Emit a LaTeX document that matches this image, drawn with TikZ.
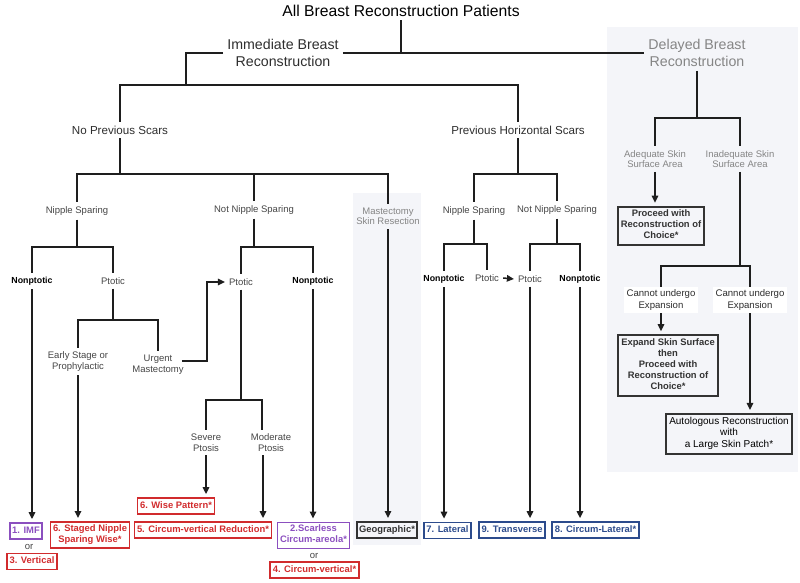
\documentclass[tikz,border=0pt]{standalone}
\usepackage{fontspec}
\setmainfont{Liberation Sans}
\usetikzlibrary{arrows.meta,positioning}

\definecolor{linec}{HTML}{1E1E1E}
\definecolor{txtdark}{HTML}{2E2E2E}
\definecolor{txtgray}{HTML}{454545}
\definecolor{txtlight}{HTML}{858585}
\definecolor{panel}{HTML}{F4F5F9}
\definecolor{respurple}{HTML}{8B4FBF}
\definecolor{resred}{HTML}{D12B2D}
\definecolor{resblue}{HTML}{2C4B8C}
\definecolor{resdark}{HTML}{333333}

\begin{document}
\begin{tikzpicture}[x=1pt, y=-1pt, >={Triangle[length=7pt,width=6.5pt]},
    conn/.style={draw=linec, line width=1.5pt},
    arr/.style={conn, ->, shorten >=3pt},
    lab/.style={font=\fontsize{9.5}{10.5}\selectfont, text=txtgray, align=center, inner sep=4pt},
    labbold/.style={lab, font=\fontsize{8.8}{10.5}\selectfont\bfseries, text=black},
    head/.style={font=\fontsize{14.2}{17}\selectfont, text=txtdark, align=center, inner sep=4pt},
    result/.style={draw, line width=1.8pt, font=\fontsize{9.4}{11}\selectfont\bfseries,
      align=center, inner sep=2.5pt, execute at begin node=\strut},
    purplebox/.style={result, draw=respurple, text=respurple},
    redbox/.style={result, draw=resred, text=resred},
    bluebox/.style={result, draw=resblue, text=resblue},
    darkbox/.style={result, draw=resdark, text=resdark, line width=2pt, inner sep=3.2pt}]

  \useasboundingbox (0,0) rectangle (800,583);
  \fill[panel] (607,27) rectangle (798,472);
  \fill[panel] (353,193) rectangle (421,545);

  \node[font=\fontsize{15.7}{18}\selectfont] (title) at (401,11) {All Breast Reconstruction Patients};
  \node[head] (imm) at (283,53) {Immediate Breast\\Reconstruction};
  \node[head, text=txtlight] (del) at (697,53) {Delayed Breast\\Reconstruction};

  \node[lab, font=\fontsize{11.6}{13}\selectfont, text=txtdark] (nps) at (120,130) {No Previous Scars};
  \node[lab, font=\fontsize{11.6}{13}\selectfont, text=txtdark] (phs) at (518,130) {Previous Horizontal Scars};

  \node[lab] (ns1) at (77,211) {Nipple Sparing};
  \node[lab] (nns1) at (254,210) {Not Nipple Sparing};
  \node[lab, text=txtlight] (msr) at (388,216.5) {Mastectomy\\Skin Resection};
  \node[lab] (ns2) at (474,211) {Nipple Sparing};
  \node[lab] (nns2) at (557,210) {Not Nipple Sparing};

  \node[labbold] (np1) at (32,281) {Nonptotic};
  \node[lab] (pt1) at (113,281) {Ptotic};
  \node[lab] (pt2) at (241,282) {Ptotic};
  \node[labbold] (np2) at (313,281) {Nonptotic};
  \node[labbold] (np3) at (444,279) {Nonptotic};
  \node[lab] (pt3) at (487,278) {Ptotic};
  \node[lab] (pt4) at (530,279) {Ptotic};
  \node[labbold] (np4) at (580,279) {Nonptotic};

  \node[lab] (es) at (78,361.5) {Early Stage or\\Prophylactic};
  \node[lab] (um) at (158,364.5) {Urgent\\Mastectomy};
  \node[lab] (sev) at (206,442.5) {Severe\\Ptosis};
  \node[lab] (mod) at (271,442.5) {Moderate\\Ptosis};

  \node[lab, text=txtlight] (adq) at (655,159) {Adequate Skin\\Surface Area};
  \node[lab, text=txtlight] (inadq) at (740,159) {Inadequate Skin\\Surface Area};
  \node[lab, fill=white, text=txtdark, inner sep=3pt, font=\fontsize{9.6}{11.5}\selectfont] (cue1) at (661,300) {Cannot undergo\\Expansion};
  \node[lab, fill=white, text=txtdark, inner sep=3pt, font=\fontsize{9.6}{11.5}\selectfont] (cue2) at (750,300) {Cannot undergo\\Expansion};

  \node[purplebox] (imf) at (26,531) {1. IMF};
  \node[lab, inner sep=1pt] (or1) at (29,546.5) {or};
  \node[redbox] (vert) at (32,561.5) {3. Vertical};
  \node[redbox] (snsw) at (90,535) {6. Staged Nipple\\Sparing Wise*};
  \node[redbox] (wise) at (176,506) {6. Wise Pattern*};
  \node[redbox] (cvr) at (203,530) {5. Circum-vertical Reduction*};
  \node[purplebox] (sca) at (313.5,535.5) {2.Scarless\\Circum-areola*};
  \node[lab, inner sep=1pt] (or2) at (314,556) {or};
  \node[redbox] (cv) at (314.5,570) {4. Circum-vertical*};
  \node[darkbox, inner sep=2.5pt] (geo) at (387,530) {Geographic*};
  \node[bluebox] (lat) at (447.5,530.5) {7. Lateral};
  \node[bluebox] (trans) at (512,530) {9. Transverse};
  \node[bluebox] (cl) at (595.5,530) {8. Circum-Lateral*};

  \node[darkbox] (proc) at (661,226) {Proceed with\\Reconstruction of\\Choice*};
  \node[darkbox] (exp) at (668,365.5) {Expand Skin Surface\\then\\Proceed with\\Reconstruction of\\Choice*};
  \node[darkbox, text=black, font=\fontsize{10}{11.5}\selectfont] (auto) at (729,434) {Autologous Reconstruction\\with\\a Large Skin Patch*};

  \draw[conn] (title.south) -- (title.south |- imm.east);
  \draw[conn] (imm.east) -- (del.west);
  \coordinate (jimm) at (186,85);
  \draw[conn] (imm.west) -| (jimm) -| (nps.north);
  \draw[conn] (jimm) -| (phs.north);

  \coordinate (jnps) at (120,174);
  \draw[conn] (nps.south) -- (jnps) -| (ns1.north);
  \draw[conn] (jnps) -| (nns1.north);
  \draw[conn] (jnps) -| (msr.north);
  \coordinate (jphs) at (518,174);
  \draw[conn] (phs.south) -- (jphs) -| (ns2.north);
  \draw[conn] (jphs) -| (nns2.north);

  \coordinate (jns1) at (77,247);
  \draw[conn] (ns1.south) -- (jns1) -| (np1.north);
  \draw[conn] (jns1) -| (pt1.north);
  \coordinate (jnns1) at (254,247);
  \draw[conn] (nns1.south) -- (jnns1) -| (pt2.north);
  \draw[conn] (jnns1) -| (np2.north);
  \coordinate (jns2) at (474,244);
  \draw[conn] (ns2.south) -- (jns2) -| (np3.north);
  \draw[conn] (jns2) -| (pt3.north);
  \coordinate (jnns2) at (557,244);
  \draw[conn] (nns2.south) -- (jnns2) -| (pt4.north);
  \draw[conn] (jnns2) -| (np4.north);

  \coordinate (jpt1) at (113,320);
  \draw[conn] (pt1.south) -- (jpt1) -| (es.north);
  \draw[conn] (jpt1) -| (um.north);
  \coordinate (jpt2) at (241,400);
  \draw[conn] (pt2.south) -- (jpt2) -| (sev.north);
  \draw[conn] (jpt2) -| ([xshift=-9pt]mod.north);

  \draw[conn,->] ([xshift=-6pt,yshift=3.5pt]um.east) -- ++(25,0) |- (pt2.west);
  \draw[conn,->] (pt3.east) -- (pt4.west);

  \draw[arr] (np1.south) -- (np1.south |- imf.north);
  \draw[arr] (es.south) -- (es.south |- snsw.north);
  \draw[arr] (sev.south) -- (sev.south |- wise.north);
  \draw[arr] ([xshift=-8pt]mod.south) -- ([xshift=-8pt]mod.south |- cvr.north);
  \draw[arr] (np2.south) -- (np2.south |- sca.north);
  \draw[arr] (msr.south) -- (msr.south |- geo.north);
  \draw[arr] (np3.south) -- (np3.south |- lat.north);
  \draw[arr] (pt4.south) -- (pt4.south |- trans.north);
  \draw[arr] (np4.south) -- (np4.south |- cl.north);

  \coordinate (jdel) at (697,118);
  \draw[conn] (del.south) -- (jdel) -| (adq.north);
  \draw[conn] (jdel) -| (inadq.north);
  \draw[arr] (adq.south) -- (adq.south |- proc.north);
  \coordinate (jinadq) at (740,266);
  \draw[conn] (inadq.south) -- (jinadq) -| (cue1.north);
  \draw[conn] (jinadq) -| (cue2.north);
  \draw[arr] (cue1.south) -- (cue1.south |- exp.north);
  \draw[arr] (cue2.south) -- (cue2.south |- auto.north);
\end{tikzpicture}
\end{document}
